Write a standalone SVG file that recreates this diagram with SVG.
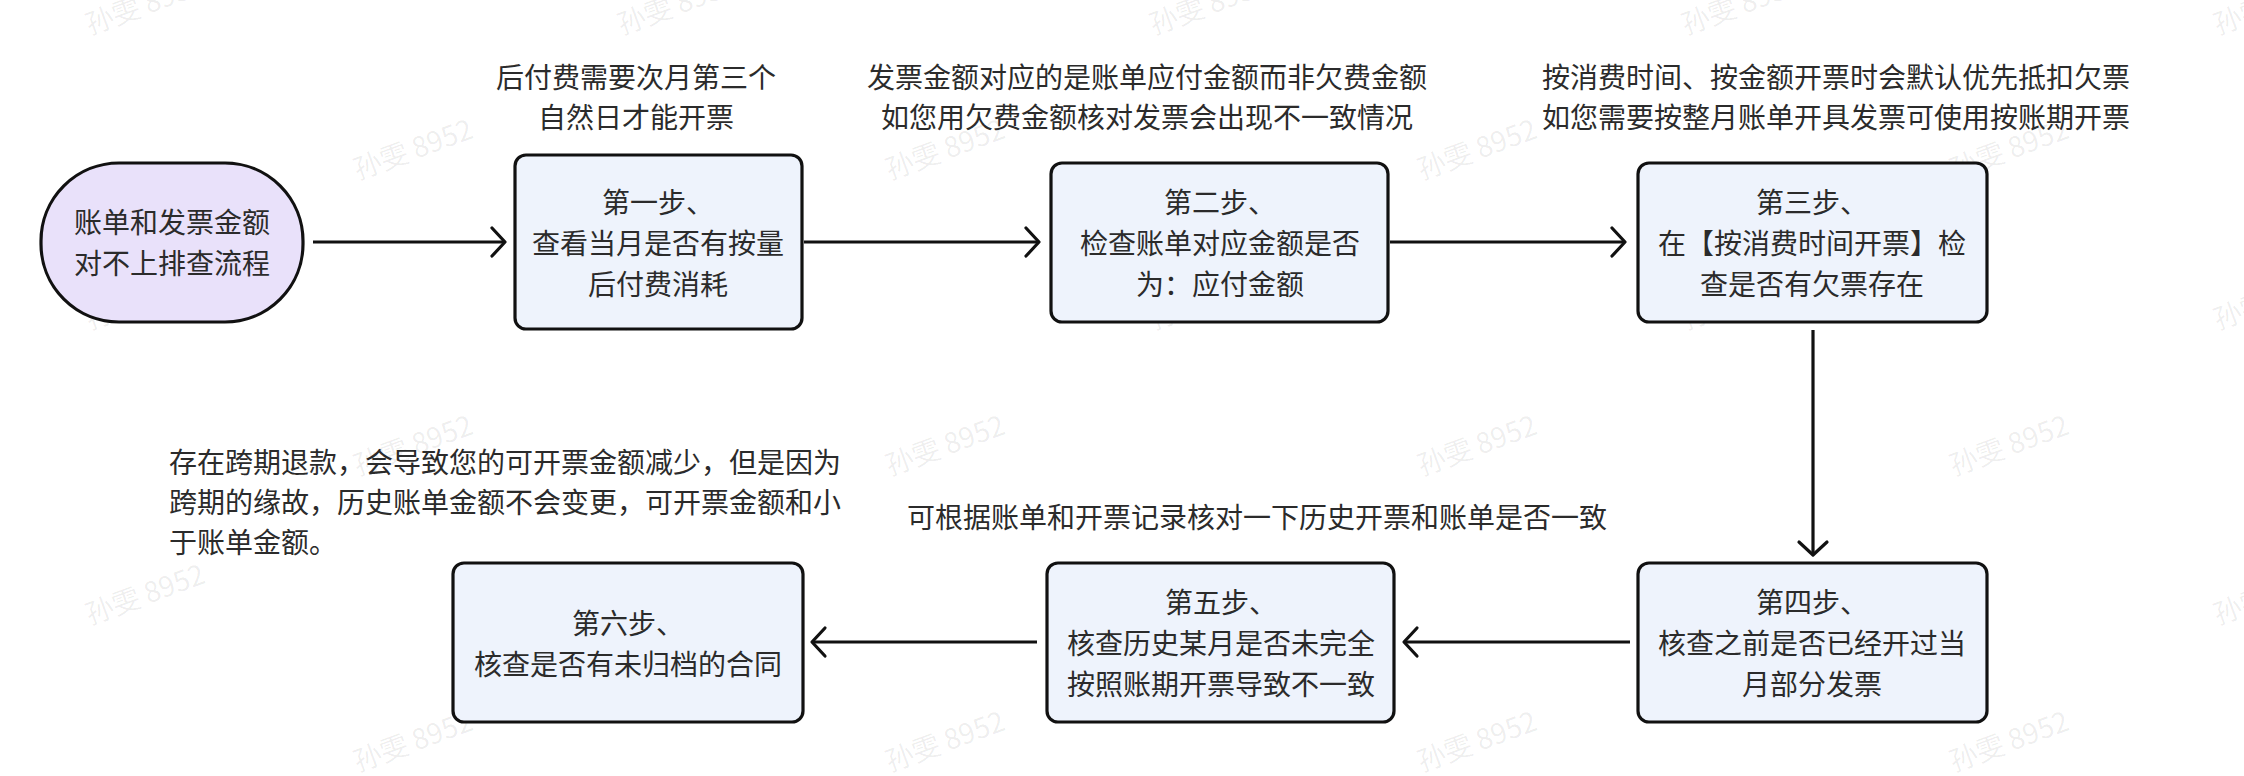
<svg xmlns="http://www.w3.org/2000/svg" width="2244" height="776" viewBox="0 0 2244 776">
  <defs>
    <marker id="arrow" viewBox="-16 -17 20 34" refX="0" refY="0" markerWidth="20" markerHeight="34" markerUnits="userSpaceOnUse" orient="auto">
      <path d="M-13,-14 L0,0 L-13,14" fill="none" stroke="#111" stroke-width="3.2" stroke-linecap="round" stroke-linejoin="round"/>
    </marker>
    <style>
      .txt { font-family: "Noto Sans CJK SC", "Noto Sans", sans-serif; font-size: 28px; fill: #2b2b2b; }
      .mid { text-anchor: middle; }
      .box { fill: #eef3fc; stroke: #111; stroke-width: 3.2; }
      .start { fill: #e9e1fa; stroke: #111; stroke-width: 3.2; }
      .edge { fill: none; stroke: #111; stroke-width: 3.2; marker-end: url(#arrow); }
      .wm { font-family: "Noto Sans CJK SC", "Noto Sans", sans-serif; font-size: 28px; fill: #000; fill-opacity: 0.07; }
    </style>
  </defs>
  <rect x="0" y="0" width="2244" height="776" fill="#ffffff"/>

  <g id="watermarks">
    <text class="wm" transform="translate(90,35) rotate(-20)">孙雯 8952</text>
    <text class="wm" transform="translate(622,35) rotate(-20)">孙雯 8952</text>
    <text class="wm" transform="translate(1154,35) rotate(-20)">孙雯 8952</text>
    <text class="wm" transform="translate(1686,35) rotate(-20)">孙雯 8952</text>
    <text class="wm" transform="translate(2218,35) rotate(-20)">孙雯 8952</text>
    <text class="wm" transform="translate(90,330) rotate(-20)">孙雯 8952</text>
    <text class="wm" transform="translate(622,330) rotate(-20)">孙雯 8952</text>
    <text class="wm" transform="translate(1154,330) rotate(-20)">孙雯 8952</text>
    <text class="wm" transform="translate(1686,330) rotate(-20)">孙雯 8952</text>
    <text class="wm" transform="translate(2218,330) rotate(-20)">孙雯 8952</text>
    <text class="wm" transform="translate(90,625) rotate(-20)">孙雯 8952</text>
    <text class="wm" transform="translate(622,625) rotate(-20)">孙雯 8952</text>
    <text class="wm" transform="translate(1154,625) rotate(-20)">孙雯 8952</text>
    <text class="wm" transform="translate(1686,625) rotate(-20)">孙雯 8952</text>
    <text class="wm" transform="translate(2218,625) rotate(-20)">孙雯 8952</text>
    <text class="wm" transform="translate(358,180) rotate(-20)">孙雯 8952</text>
    <text class="wm" transform="translate(890,180) rotate(-20)">孙雯 8952</text>
    <text class="wm" transform="translate(1422,180) rotate(-20)">孙雯 8952</text>
    <text class="wm" transform="translate(1954,180) rotate(-20)">孙雯 8952</text>
    <text class="wm" transform="translate(358,476) rotate(-20)">孙雯 8952</text>
    <text class="wm" transform="translate(890,476) rotate(-20)">孙雯 8952</text>
    <text class="wm" transform="translate(1422,476) rotate(-20)">孙雯 8952</text>
    <text class="wm" transform="translate(1954,476) rotate(-20)">孙雯 8952</text>
    <text class="wm" transform="translate(358,772) rotate(-20)">孙雯 8952</text>
    <text class="wm" transform="translate(890,772) rotate(-20)">孙雯 8952</text>
    <text class="wm" transform="translate(1422,772) rotate(-20)">孙雯 8952</text>
    <text class="wm" transform="translate(1954,772) rotate(-20)">孙雯 8952</text>
  </g>

  <g id="connectors">
    <path class="edge" d="M313,242 L505,242"/>
    <path class="edge" d="M804,242 L1039,242"/>
    <path class="edge" d="M1390,242 L1625,242"/>
    <path class="edge" d="M1813,330 L1813,555"/>
    <path class="edge" d="M1630,642 L1404,642"/>
    <path class="edge" d="M1037,642 L812,642"/>
  </g>

  <g id="annotations">
    <text class="txt mid" x="636" y="88">后付费需要次月第三个</text>
    <text class="txt mid" x="636" y="128">自然日才能开票</text>
    <text class="txt mid" x="1147" y="88">发票金额对应的是账单应付金额而非欠费金额</text>
    <text class="txt mid" x="1147" y="128">如您用欠费金额核对发票会出现不一致情况</text>
    <text class="txt mid" x="1836" y="88">按消费时间、按金额开票时会默认优先抵扣欠票</text>
    <text class="txt mid" x="1836" y="128">如您需要按整月账单开具发票可使用按账期开票</text>
    <text class="txt" x="907" y="528">可根据账单和开票记录核对一下历史开票和账单是否一致</text>
    <text class="txt" x="169" y="473">存在跨期退款，会导致您的可开票金额减少，但是因为</text>
    <text class="txt" x="169" y="513">跨期的缘故，历史账单金额不会变更，可开票金额和小</text>
    <text class="txt" x="169" y="553">于账单金额。</text>
  </g>

  <g id="start">
    <rect class="start" x="41" y="163" width="262" height="159" rx="78" ry="78"/>
    <text class="txt mid" x="172" y="233">账单和发票金额</text>
    <text class="txt mid" x="172" y="274">对不上排查流程</text>
  </g>

  <g id="step1">
    <rect class="box" x="515" y="155" width="287" height="174" rx="11" ry="11"/>
    <text class="txt mid" x="658" y="213">第一步、</text>
    <text class="txt mid" x="658" y="254">查看当月是否有按量</text>
    <text class="txt mid" x="658" y="295">后付费消耗</text>
  </g>

  <g id="step2">
    <rect class="box" x="1051" y="163" width="337" height="159" rx="11" ry="11"/>
    <text class="txt mid" x="1220" y="213">第二步、</text>
    <text class="txt mid" x="1220" y="254">检查账单对应金额是否</text>
    <text class="txt mid" x="1220" y="295">为：应付金额</text>
  </g>

  <g id="step3">
    <rect class="box" x="1638" y="163" width="349" height="159" rx="11" ry="11"/>
    <text class="txt mid" x="1812" y="213">第三步、</text>
    <text class="txt mid" x="1812" y="254">在【按消费时间开票】检</text>
    <text class="txt mid" x="1812" y="295">查是否有欠票存在</text>
  </g>

  <g id="step4">
    <rect class="box" x="1638" y="563" width="349" height="159" rx="11" ry="11"/>
    <text class="txt mid" x="1812" y="613">第四步、</text>
    <text class="txt mid" x="1812" y="654">核查之前是否已经开过当</text>
    <text class="txt mid" x="1812" y="695">月部分发票</text>
  </g>

  <g id="step5">
    <rect class="box" x="1047" y="563" width="347" height="159" rx="11" ry="11"/>
    <text class="txt mid" x="1221" y="613">第五步、</text>
    <text class="txt mid" x="1221" y="654">核查历史某月是否未完全</text>
    <text class="txt mid" x="1221" y="695">按照账期开票导致不一致</text>
  </g>

  <g id="step6">
    <rect class="box" x="453" y="563" width="350" height="159" rx="11" ry="11"/>
    <text class="txt mid" x="628" y="634">第六步、</text>
    <text class="txt mid" x="628" y="675">核查是否有未归档的合同</text>
  </g>
</svg>
